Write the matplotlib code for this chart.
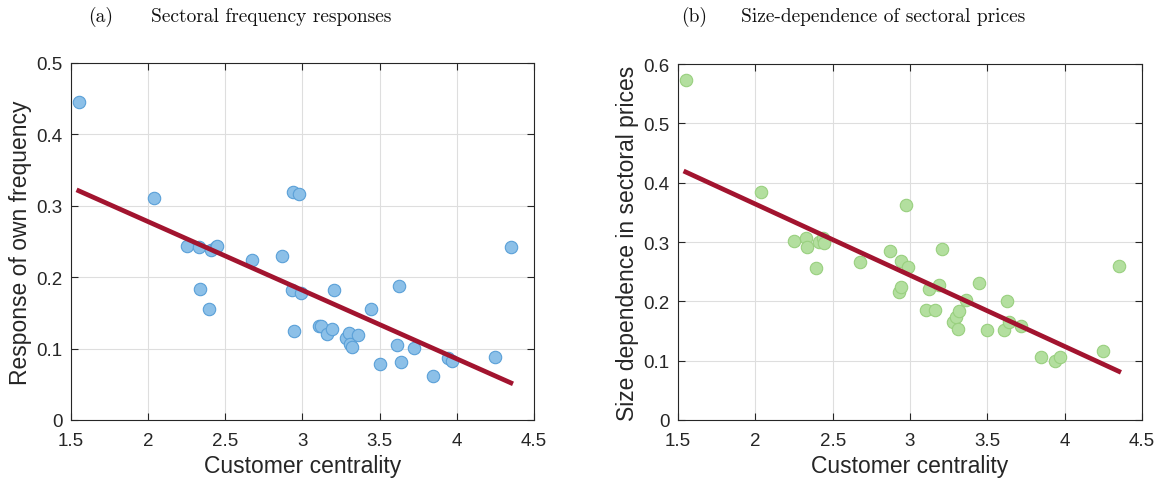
import numpy as np
import matplotlib
matplotlib.use("Agg")
from matplotlib import pyplot as plt

# customer centrality of each sector (shared by both panels)
centrality = [1.55, 2.035, 2.25, 2.33, 2.335, 2.395, 2.41, 2.44, 2.445, 2.675,
              2.87, 2.93, 2.94, 2.945, 2.975, 2.99, 3.105, 3.12, 3.16, 3.19,
              3.205, 3.28, 3.30, 3.31, 3.32, 3.36, 3.445, 3.50, 3.61, 3.627,
              3.64, 3.72, 3.845, 3.94, 3.967, 4.245, 4.35]

# panel (a): response of own frequency
freq_resp = [0.445, 0.311, 0.243, 0.242, 0.184, 0.156, 0.2385, 0.242, 0.243, 0.224,
             0.229, 0.1825, 0.320, 0.125, 0.317, 0.178, 0.131, 0.132, 0.121, 0.128,
             0.1816, 0.115, 0.1214, 0.1065, 0.102, 0.119, 0.156, 0.079, 0.1046, 0.188,
             0.0807, 0.1008, 0.062, 0.0868, 0.082, 0.088, 0.242]

# panel (b): size dependence in sectoral prices
size_dep = [0.5736, 0.385, 0.302, 0.306, 0.2916, 0.256, 0.2995, 0.307, 0.298, 0.266,
            0.285, 0.215, 0.268, 0.2247, 0.362, 0.258, 0.1854, 0.220, 0.186, 0.2275,
            0.289, 0.1646, 0.173, 0.153, 0.184, 0.202, 0.231, 0.152, 0.1516, 0.201,
            0.1646, 0.158, 0.107, 0.0999, 0.107, 0.116, 0.259]

# fitted lines, read at the ends of the centrality range
fit_x = [1.55, 4.35]
fit_a = [0.321, 0.052]
fit_b = [0.418, 0.082]

xticks = [1.5, 2, 2.5, 3, 3.5, 4, 4.5]
yticks_a = [0, 0.1, 0.2, 0.3, 0.4, 0.5]
yticks_b = [0, 0.1, 0.2, 0.3, 0.4, 0.5, 0.6]

plt.rcParams['font.family'] = ['Liberation Sans', 'DejaVu Sans']
axis_col = '#262626'
red = '#A2142F'

fig = plt.figure(figsize=(11.65, 4.85), dpi=100)
W, H = 1165, 485
ax1 = fig.add_axes([71 / W, 1 - 421 / H, 463 / W, 357 / H])
ax2 = fig.add_axes([678 / W, 1 - 421 / H, 464 / W, 356 / H])


def style(ax, yticks, ylabel):
    ax.set_xlim(1.5, 4.5)
    ax.set_ylim(yticks[0], yticks[-1])
    ax.set_xticks(xticks)
    ax.set_xticklabels([f'{t:g}' for t in xticks])
    ax.set_yticks(yticks)
    ax.set_yticklabels([f'{t:g}' for t in yticks])
    ax.grid(True, color='#dedede', linewidth=0.8)
    ax.set_axisbelow(True)
    ax.tick_params(direction='in', length=5, width=0.8, top=True, right=True,
                   labelsize=13.5, colors=axis_col)
    ax.tick_params(axis='x', pad=9)
    ax.tick_params(axis='y', pad=6)
    for s in ax.spines.values():
        s.set_color(axis_col)
        s.set_linewidth(0.8)
    ax.set_xlabel('Customer centrality', fontsize=16.5, color=axis_col, labelpad=3)
    ax.set_ylabel(ylabel, fontsize=16.5, color=axis_col, labelpad=3)


ax1.scatter(centrality, freq_resp, s=80, facecolor='#8cc0e8', edgecolor='#5aa0d8',
            linewidth=0.8, zorder=3)
ax1.plot(fit_x, fit_a, color=red, linewidth=3.4, zorder=4)
style(ax1, yticks_a, 'Response of own frequency')

ax2.scatter(centrality, size_dep, s=80, facecolor='#b3df9f', edgecolor='#99d07f',
            linewidth=0.8, zorder=3)
ax2.plot(fit_x, fit_b, color=red, linewidth=3.4, zorder=4)
style(ax2, yticks_b, 'Size dependence in sectoral prices')

ty = 1 - 22 / H
tfont = dict(fontname='cmr10', fontsize=14, va='baseline', color='#111111')
fig.text(88 / W, ty, '(a)', **tfont)
fig.text(151 / W, ty, 'Sectoral frequency responses', **tfont)
fig.text(681 / W, ty, '(b)', **tfont)
fig.text(741 / W, ty, 'Size-dependence of sectoral prices', **tfont)

fig.savefig('out.png', dpi=100)
